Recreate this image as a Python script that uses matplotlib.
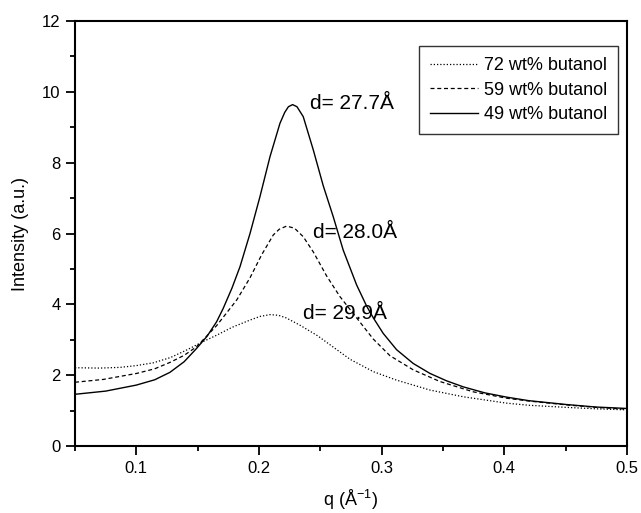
import matplotlib
matplotlib.use("Agg")
import matplotlib.pyplot as plt
from matplotlib.ticker import MultipleLocator

plt.rcParams["font.family"] = ["Liberation Sans", "DejaVu Sans"]
plt.rcParams["mathtext.fontset"] = "custom"
plt.rcParams["mathtext.rm"] = "Liberation Sans"

# ------------------------------------------------------------
# data
# ------------------------------------------------------------
q_72 = [0.05, 0.07, 0.0867, 0.10, 0.114, 0.128, 0.141, 0.1546, 0.165, 0.178,
        0.193, 0.201, 0.209, 0.216, 0.222, 0.233, 0.2475, 0.2579, 0.2742,
        0.2932, 0.3122, 0.3394, 0.3666, 0.4019, 0.42, 0.451, 0.475, 0.5]
I_72 = [2.21, 2.20, 2.22, 2.27, 2.35, 2.50, 2.71, 2.95, 3.12, 3.35,
        3.56, 3.66, 3.71, 3.69, 3.62, 3.42, 3.12, 2.86, 2.45,
        2.10, 1.86, 1.58, 1.39, 1.21, 1.15, 1.09, 1.05, 1.02]

q_59 = [0.05, 0.0731, 0.1003, 0.115, 0.1274, 0.139, 0.149, 0.1655, 0.1818,
        0.1927, 0.2022, 0.2117, 0.2165, 0.2225, 0.229, 0.2361, 0.2443, 0.2552,
        0.266, 0.2823, 0.2932, 0.3068, 0.3258, 0.3476, 0.3747, 0.4019, 0.42,
        0.451, 0.475, 0.5]
I_59 = [1.80, 1.88, 2.05, 2.18, 2.36, 2.56, 2.80, 3.40, 4.12,
        4.75, 5.40, 5.96, 6.12, 6.21, 6.15, 5.91, 5.48, 4.80,
        4.22, 3.50, 3.02, 2.55, 2.15, 1.82, 1.53, 1.35, 1.27,
        1.16, 1.09, 1.04]

q_49 = [0.05, 0.075, 0.10, 0.115, 0.1274, 0.139, 0.149, 0.1577, 0.1655, 0.1709,
        0.178, 0.1845, 0.1927, 0.2008, 0.209, 0.2171, 0.221, 0.224, 0.2274,
        0.231, 0.2361, 0.2443, 0.2524, 0.2606, 0.2687, 0.2796, 0.2878, 0.2932,
        0.3013, 0.3122, 0.3258, 0.3394, 0.353, 0.3666, 0.3842, 0.4019, 0.42,
        0.451, 0.475, 0.5]
I_49 = [1.46, 1.55, 1.72, 1.87, 2.08, 2.38, 2.75, 3.10, 3.51, 3.89,
        4.46, 5.06, 6.00, 7.04, 8.17, 9.11, 9.42, 9.58, 9.64,
        9.58, 9.30, 8.36, 7.35, 6.47, 5.53, 4.55, 3.95, 3.62,
        3.18, 2.72, 2.33, 2.05, 1.84, 1.67, 1.50, 1.38, 1.28,
        1.17, 1.10, 1.06]

labels = ["72 wt% butanol", "59 wt% butanol", "49 wt% butanol"]
d_texts = ["d= 29.9Å", "d= 28.0Å", "d= 27.7Å"]
d_pos = [(0.2359, 3.75), (0.244, 6.04), (0.2416, 9.66)]

fig = plt.figure(figsize=(6.41, 5.13), dpi=100)
ax = fig.add_axes([0.117, 0.1306, 0.861, 0.8284])

ax.plot(q_72, I_72, color="black", lw=0.9, linestyle=(0, (1, 1.6)), label=labels[0])
ax.plot(q_59, I_59, color="black", lw=0.9, linestyle=(0, (3.2, 2.2)), label=labels[1])
ax.plot(q_49, I_49, color="black", lw=1.0, linestyle="-", label=labels[2])

for txt, (x, y) in zip(d_texts, d_pos):
    ax.text(x, y, txt, fontsize=15, ha="left", va="center")

ax.set_xlim(0.05, 0.5)
ax.set_ylim(0, 12)
ax.xaxis.set_minor_locator(MultipleLocator(0.05))
ax.yaxis.set_major_locator(MultipleLocator(2))
ax.yaxis.set_minor_locator(MultipleLocator(1))
ax.set_xticks([0.1, 0.2, 0.3, 0.4, 0.5])
ax.set_xticklabels(["0.1", "0.2", "0.3", "0.4", "0.5"])

for s in ax.spines.values():
    s.set_linewidth(1.5)
ax.tick_params(which="major", direction="out", length=6.5, width=1.3,
               labelsize=12, top=False, right=False, pad=4)
ax.tick_params(which="minor", direction="out", length=3.5, width=1.3,
               top=False, right=False)

ax.set_xlabel("q (Å$^{-1}$)", fontsize=13, labelpad=9)
ax.set_ylabel("Intensity (a.u.)", fontsize=13, labelpad=9)

leg = ax.legend(loc="upper right", bbox_to_anchor=(0.9837, 0.941), fontsize=13,
                frameon=True, fancybox=False, handlelength=2.7,
                handletextpad=0.3, borderpad=0.6, labelspacing=0.42,
                borderaxespad=0)
leg.get_frame().set_edgecolor("black")
leg.get_frame().set_linewidth(1.0)

fig.savefig("out.png", dpi=100)
